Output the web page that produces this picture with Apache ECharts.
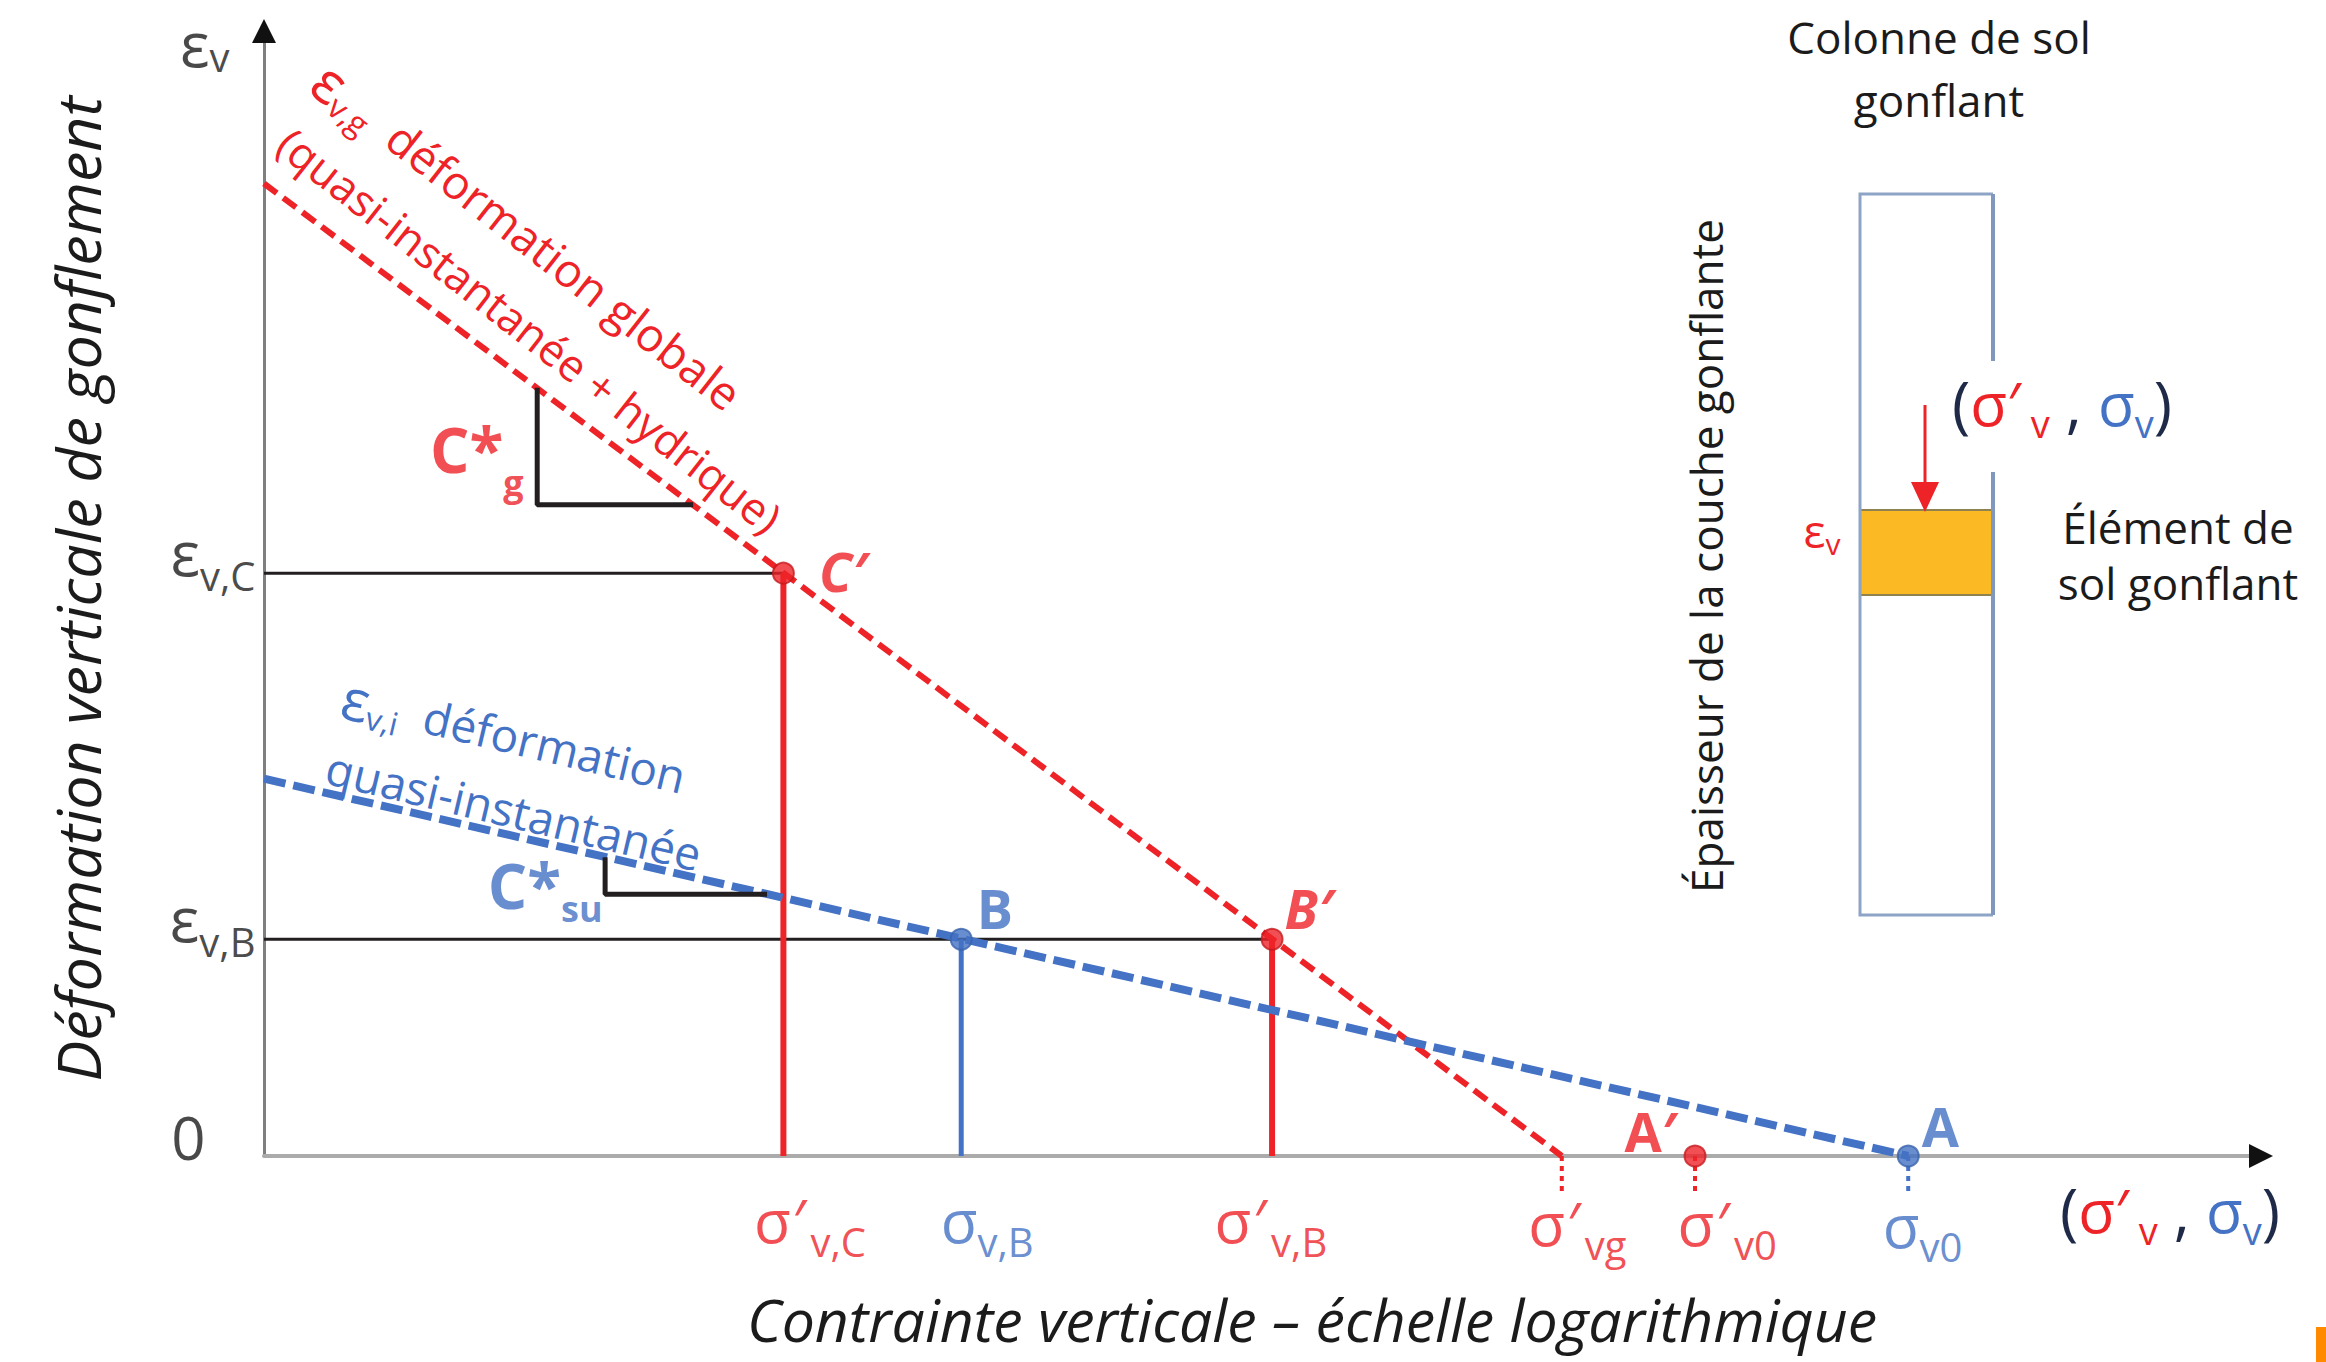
<!DOCTYPE html>
<html>
<head>
<meta charset="utf-8">
<script src="https://cdn.jsdelivr.net/npm/echarts@6/dist/echarts.min.js"></script>
<style>
  html, body { margin: 0; padding: 0; background: #ffffff; }
  #chart { width: 2326px; height: 1362px; }
</style>
</head>
<body>
<div id="chart"></div>
<script>
// ---- values (schematic stresses on a log axis, strains in %) ----
// stresses marked under the horizontal axis
const tickStress = [11, 25, 105, 400, 740, 1980];
const tickSub    = ['v,C', 'v,B', 'v,B', 'vg', 'v0', 'v0'];
const tickPrime  = [true, false, true, true, true, false];   // effective (σ′) or total (σ)
// strain levels read on the vertical axis
const strainLevels = [5.19, 1.93];
const strainSub    = ['v,C', 'v,B'];
// εv,g : global swelling (quasi-instantaneous + hydric)
const globalLine  = [[1, 8.66], [400, 0]];
// εv,i : quasi-instantaneous swelling
const instantLine = [[1, 3.36], [1980, 0]];
// named states
const redPoints  = [[11, 5.19], [105, 1.93], [740, 0]];
const redNames   = ['C′', 'B′', 'A′'];
const bluePoints = [[25, 1.93], [1980, 0]];
const blueNames  = ['B', 'A'];
// slope triangles C*g and C*su
const slopeG  = [[3.53, 6.84], [3.53, 5.80], [7.25, 5.80]];
const slopeSu = [[4.83, 2.66], [4.83, 2.33], [10.2, 2.33]];

// ---- styles ----
const RED = '#ed2328', BLUE = '#4472c4', INK = '#1b1b1b', LINE_INK = '#231f20';
const CLEAR = 'rgba(0,0,0,0)';
const FONT = "'Open Sans', 'Noto Sans', 'DejaVu Sans', sans-serif";
const X_MIN = 1, X_MAX = 10000, Y_MIN = 0, Y_MAX = 10;
const STUB = -0.34;   // dotted guides dropped below the axis

const chart = echarts.init(document.getElementById('chart'), null,
  { renderer: 'svg', width: 2326, height: 1362 });

const line = (data, color, width, type, z) => ({
  type: 'line', data, symbol: 'none', silent: true, clip: false, z: z || 2,
  animation: false, lineStyle: { color, width, type, cap: 'butt' }
});

const series = [];
// horizontal guides from the strain axis to C′ and B′
strainLevels.forEach((lv, i) => {
  series.push(line([[X_MIN, lv], [redPoints[i][0], lv]], LINE_INK, 3, 'solid', 1));
});
// vertical drops
series.push(line([[redPoints[0][0], 0], redPoints[0]], RED, 6, 'solid', 2));
series.push(line([[redPoints[1][0], 0], redPoints[1]], RED, 6, 'solid', 2));
series.push(line([[bluePoints[0][0], 0], bluePoints[0]], BLUE, 5, 'solid', 2));
// dotted guides below the axis
[3, 4, 5].forEach(i => {
  series.push(line([[tickStress[i], 0], [tickStress[i], STUB]],
    tickPrime[i] ? RED : BLUE, 4, [5, 5], 2));
});
// swelling lines
series.push(line(globalLine, RED, 6, [16, 8], 3));
series.push(line(instantLine, BLUE, 8, [22, 8], 3));
// slope triangles
series.push(line(slopeG, LINE_INK, 5, 'solid', 3));
series.push(line(slopeSu, LINE_INK, 5, 'solid', 3));

// point markers with their names
const redLabelPos  = [[24, -2, true], [1, -31, true], [-82, -25, false]];
const blueLabelPos = [[4, -31], [2, -30]];
series.push({
  type: 'scatter', z: 5, symbolSize: 21, animation: false, silent: true,
  itemStyle: { color: RED, borderColor: '#c41a1f', borderWidth: 2 },
  data: redPoints.map((p, i) => ({
    value: p, name: redNames[i],
    label: { offset: redLabelPos[i].slice(0, 2), fontStyle: redLabelPos[i][2] ? 'italic' : 'normal' }
  })),
  label: { show: true, position: 'right', distance: 0, formatter: p => p.name,
    color: RED, fontFamily: FONT, fontWeight: 'bold', fontSize: 54, align: 'left', verticalAlign: 'middle' }
});
series.push({
  type: 'scatter', z: 5, symbolSize: 21, animation: false, silent: true,
  itemStyle: { color: BLUE, borderColor: '#3a63ad', borderWidth: 2 },
  data: bluePoints.map((p, i) => ({ value: p, name: blueNames[i], label: { offset: blueLabelPos[i] } })),
  label: { show: true, position: 'right', distance: 0, formatter: p => p.name,
    color: BLUE, fontFamily: FONT, fontWeight: 'bold', fontSize: 54, align: 'left', verticalAlign: 'middle' }
});

// stress labels under the axis
const tickLabelPos = [[-30, 64], [-21, 64], [-58, 64], [-34, 67], [-18, 67], [-26, 69]];
const tickRich = {
  sr: { fontSize: 60, lineHeight: 64, color: RED, fontFamily: FONT, verticalAlign: 'middle' },
  sb: { fontSize: 60, lineHeight: 64, color: BLUE, fontFamily: FONT, verticalAlign: 'middle' },
  pr: { fontSize: 60, lineHeight: 64, color: RED, fontFamily: FONT, verticalAlign: 'middle', padding: [0, 4, 0, 2] },
  ur: { fontSize: 40, lineHeight: 34, color: RED, fontFamily: FONT, verticalAlign: 'middle', padding: [42, 0, 0, 0] },
  ub: { fontSize: 40, lineHeight: 34, color: BLUE, fontFamily: FONT, verticalAlign: 'middle', padding: [42, 0, 0, 0] }
};
series.push({
  type: 'scatter', z: 4, symbolSize: 1, animation: false, silent: true,
  itemStyle: { color: CLEAR },
  data: tickStress.map((x, i) => ({ value: [x, 0], label: { offset: tickLabelPos[i] } })),
  label: {
    show: true, position: 'right', distance: 0, align: 'left', verticalAlign: 'middle',
    formatter: p => tickPrime[p.dataIndex]
      ? `{sr|σ}{pr|′}{ur|${tickSub[p.dataIndex]}}`
      : `{sb|σ}{ub|${tickSub[p.dataIndex]}}`,
    rich: tickRich
  }
});

// strain labels left of the vertical axis
const strainRich = {
  e: { fontSize: 62, color: INK, fontFamily: FONT, verticalAlign: 'middle' },
  u: { fontSize: 40, color: INK, fontFamily: FONT, verticalAlign: 'middle', padding: [46, 0, 0, 0] },
  et: { fontSize: 62, lineHeight: 50, color: INK, fontFamily: FONT, verticalAlign: 'middle' },
  ut: { fontSize: 40, lineHeight: 36, color: INK, fontFamily: FONT, verticalAlign: 'middle', padding: [26, 0, 0, 0] },
  z: { fontSize: 60, color: INK, fontFamily: FONT, verticalAlign: 'middle' }
};
const strainLabelData = [
  { value: [X_MIN, Y_MAX], text: '{et|ε}{ut|v}', offset: [-34, 10] },
  { value: [X_MIN, strainLevels[0]], text: `{e|ε}{u|${strainSub[0]}}`, offset: [-8, -21] },
  { value: [X_MIN, strainLevels[1]], text: `{e|ε}{u|${strainSub[1]}}`, offset: [-8, -21] },
  { value: [X_MIN, Y_MIN], text: '{z|0}', offset: [-58, -19] }
];
series.push({
  type: 'scatter', z: 4, symbolSize: 1, animation: false, silent: true, clip: false,
  itemStyle: { color: CLEAR },
  data: strainLabelData.map(d => ({ value: d.value, name: d.text, label: { offset: d.offset } })),
  label: { show: true, position: 'left', distance: 0, align: 'right', verticalAlign: 'middle',
    formatter: p => p.name, rich: strainRich }
});

// slope names at the right-angle corners
const slopeRichG = {
  c: { fontSize: 62, fontWeight: 'bold', color: RED, fontFamily: FONT, verticalAlign: 'middle' },
  s: { fontSize: 36, fontWeight: 'bold', color: RED, fontFamily: FONT, verticalAlign: 'middle', padding: [68, 0, 0, 0] }
};
const slopeRichSu = {
  c: { fontSize: 62, fontWeight: 'bold', color: BLUE, fontFamily: FONT, verticalAlign: 'middle' },
  s: { fontSize: 36, fontWeight: 'bold', color: BLUE, fontFamily: FONT, verticalAlign: 'middle', padding: [46, 0, 0, 0] }
};
series.push({
  type: 'scatter', z: 4, symbolSize: 1, animation: false, silent: true,
  itemStyle: { color: CLEAR },
  data: [{ value: slopeG[1], label: { offset: [-13, -56] } }],
  label: { show: true, position: 'left', distance: 0, align: 'right', verticalAlign: 'middle',
    formatter: '{c|C*}{s|g}', rich: slopeRichG }
});
series.push({
  type: 'scatter', z: 4, symbolSize: 1, animation: false, silent: true,
  itemStyle: { color: CLEAR },
  data: [{ value: slopeSu[1], label: { offset: [-2, -9] } }],
  label: { show: true, position: 'left', distance: 0, align: 'right', verticalAlign: 'middle',
    formatter: '{c|C*}{s|su}', rich: slopeRichSu }
});

chart.setOption({
  animation: false,
  backgroundColor: '#ffffff',
  textStyle: { fontFamily: FONT },
  grid: { left: 264, right: 67, top: 33, bottom: 206, containLabel: false, outerBoundsMode: 'none' },
  xAxis: {
    type: 'log', logBase: 10, min: X_MIN, max: X_MAX,
    axisLine: { show: true, lineStyle: { color: '#ababab', width: 4 } },
    axisTick: { show: false }, axisLabel: { show: false },
    splitLine: { show: false }, minorTick: { show: false }, minorSplitLine: { show: false }
  },
  yAxis: {
    type: 'value', min: Y_MIN, max: Y_MAX,
    axisLine: { show: true, onZero: false, lineStyle: { color: '#7f7f7f', width: 3 } },
    axisTick: { show: false }, axisLabel: { show: false }, splitLine: { show: false }
  },
  series
});

// ---- annotations, axis arrows and the soil column sketch ----
const [xEnd, yZero] = chart.convertToPixel({ gridIndex: 0 }, [X_MAX, Y_MIN]);
const [xZero, yTop] = chart.convertToPixel({ gridIndex: 0 }, [X_MIN, Y_MAX]);

const txt = (x, y, text, style, extra) => Object.assign({
  type: 'text', x, y, silent: true, z: 10,
  style: Object.assign({
    text, x: 0, y: 0, fill: INK, fontFamily: FONT, fontSize: 44,
    align: 'center', verticalAlign: 'middle', textAlign: 'center', textVerticalAlign: 'middle'
  }, style)
}, extra || {});

// rich token styles for graphic text use zrender's "fill"
const greekRich = (color, size, subSize, pad, textSize) => ({
  e: { fontSize: size, fill: color, fontFamily: FONT, verticalAlign: 'middle' },
  u: { fontSize: subSize, fill: color, fontFamily: FONT, verticalAlign: 'middle', padding: [pad, 0, 0, 0] },
  t: { fontSize: textSize || size, fill: color, fontFamily: FONT, verticalAlign: 'middle' }
});

const pairRich = {
  k: { fontSize: 62, fill: '#1f2a48', fontFamily: FONT, verticalAlign: 'middle' },
  r: { fontSize: 60, fill: RED, fontFamily: FONT, verticalAlign: 'middle' },
  rs: { fontSize: 38, fill: RED, fontFamily: FONT, verticalAlign: 'middle', padding: [40, 0, 0, 0] },
  b: { fontSize: 60, fill: BLUE, fontFamily: FONT, verticalAlign: 'middle' },
  bs: { fontSize: 38, fill: BLUE, fontFamily: FONT, verticalAlign: 'middle', padding: [40, 0, 0, 0] }
};
const pairText = '{k|(}{r|σ′}{rs| v}{k| , }{b|σ}{bs|v}{k|)}';

const RED_ANGLE = -0.665, BLUE_ANGLE = -0.232;

const graphic = [
  // axis arrow heads
  { type: 'polygon', silent: true, z: 6,
    shape: { points: [[xEnd + 14, yZero], [xEnd - 10, yZero - 12], [xEnd - 10, yZero + 12]] },
    style: { fill: '#111111' } },
  { type: 'polygon', silent: true, z: 6,
    shape: { points: [[xZero, yTop - 14], [xZero - 12, yTop + 10], [xZero + 12, yTop + 10]] },
    style: { fill: '#111111' } },

  // axis titles
  txt(77, 589, 'Déformation verticale de gonflement',
    { fontSize: 61, fontStyle: 'italic' }, { rotation: Math.PI / 2 }),
  txt(1312, 1319, 'Contrainte verticale – échelle logarithmique',
    { fontSize: 59, lineHeight: 62, fontStyle: 'italic' }),
  txt(2170, 1210, pairText, { rich: pairRich }),

  // line captions
  txt(528, 236, '{e|ε}{u|v,g}{t|  déformation globale}',
    { rich: greekRich(RED, 58, 32, 30, 46) }, { rotation: RED_ANGLE }),
  txt(530, 330, '(quasi-instantanée + hydrique)',
    { fill: RED, fontSize: 44 }, { rotation: RED_ANGLE }),
  txt(514, 736, '{e|ε}{u|v,i}{t|  déformation}',
    { rich: greekRich(BLUE, 58, 32, 30, 46) }, { rotation: BLUE_ANGLE }),
  txt(514, 810, 'quasi-instantanée',
    { fill: BLUE, fontSize: 46 }, { rotation: BLUE_ANGLE }),

  // soil column sketch
  txt(1939, 37, 'Colonne de sol', { fontSize: 44 }),
  txt(1939, 100, 'gonflant', { fontSize: 44 }),
  { type: 'rect', silent: true, z: 5, shape: { x: 1860, y: 510, width: 133, height: 85 },
    style: { fill: '#fbb924', stroke: '#8e8350', lineWidth: 2 } },
  { type: 'polyline', silent: true, z: 6,
    shape: { points: [[1993, 194], [1860, 194], [1860, 915], [1993, 915]] },
    style: { stroke: '#8ea4c6', lineWidth: 3, fill: null } },
  { type: 'polyline', silent: true, z: 6, shape: { points: [[1993, 194], [1993, 361]] },
    style: { stroke: '#8098bd', lineWidth: 4, fill: null } },
  { type: 'polyline', silent: true, z: 6, shape: { points: [[1993, 472], [1993, 915]] },
    style: { stroke: '#8098bd', lineWidth: 4, fill: null } },
  { type: 'polyline', silent: true, z: 7, shape: { points: [[1925, 405], [1925, 488]] },
    style: { stroke: RED, lineWidth: 3, fill: null } },
  { type: 'polygon', silent: true, z: 7, shape: { points: [[1911, 482], [1939, 482], [1925, 512]] },
    style: { fill: RED } },
  txt(2062, 403, pairText, { rich: pairRich }),
  txt(1822, 530, '{e|ε}{u|v}', { rich: greekRich(RED, 46, 30, 26) }),
  txt(2178, 527, 'Élément de', { fontSize: 44 }),
  txt(2178, 583, 'sol gonflant', { fontSize: 44 }),
  txt(1706, 556, 'Épaisseur de la couche gonflante', { fontSize: 44 }, { rotation: Math.PI / 2 }),

  // corner tab
  { type: 'rect', silent: true, z: 5, shape: { x: 2316, y: 1327, width: 10, height: 35 },
    style: { fill: '#ff8a00' } }
];

chart.setOption({ graphic });
</script>
</body>
</html>
